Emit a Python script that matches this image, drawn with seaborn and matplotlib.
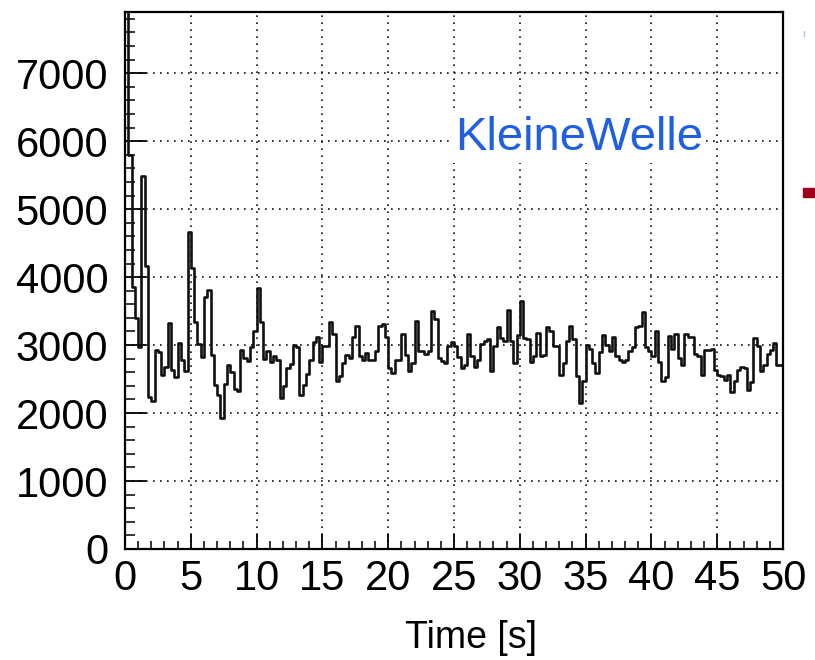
import numpy as np
import pandas as pd
import matplotlib
matplotlib.use("Agg")
import matplotlib.pyplot as plt
from matplotlib.ticker import MultipleLocator
from matplotlib.patches import Rectangle
from matplotlib.lines import Line2D
import seaborn as sns

# ---- data: counts per 0.25 s bin, 0 - 50 s ----
counts = [
    8000, 5800, 3850, 3400, 2965, 5480, 4170, 2240, 2170, 2930,
    2900, 2560, 2680, 3330, 2630, 2535, 3035, 2780, 2620, 4665,
    4140, 3340, 3015, 2830, 3705, 3815, 2855, 2410, 2260, 1930,
    2430, 2700, 2600, 2350, 2320, 2930, 2810, 2760, 2975, 3200,
    3840, 3333, 2800, 2917, 2745, 2843, 2785, 2215, 2392, 2662,
    2725, 3005, 2970, 2260, 2420, 2570, 2785, 3040, 3118, 2745,
    2980, 2980, 3333, 3170, 2465, 2540, 2735, 2858, 2810, 3118,
    3284, 2833, 2785, 2890, 2785, 2785, 2917, 3284, 3314, 3118,
    2670, 2590, 2775, 2775, 3167, 2858, 2612, 2735, 3358, 2917,
    2917, 2868, 2917, 3495, 3382, 2809, 2760, 2735, 2980, 3040,
    2990, 2825, 2662, 2710, 3167, 2833, 2676, 2784, 3020, 3054,
    3088, 2612, 2980, 3265, 3103, 3054, 3520, 3054, 2735, 3152,
    3642, 3103, 3088, 2745, 2843, 3176, 2843, 2858, 3265, 3200,
    2980, 2980, 2564, 2735, 3054, 3284, 3088, 2549, 2147, 2466,
    3005, 2941, 2735, 2590, 2892, 3152, 3005, 2907, 3118, 2843,
    2785, 2745, 2785, 2907, 2970, 3265, 3275, 3480, 2975, 2907,
    2843, 3200, 2745, 2475, 2525, 3137, 2941, 3167, 2809, 2711,
    3162, 3118, 3118, 2872, 2843, 2564, 2931, 2931, 2941, 2637,
    2564, 2540, 2480, 2564, 2304, 2466, 2637, 2676, 2660, 2333,
    2460, 3103, 2980, 2613, 2711, 2868, 2931, 3030, 2711, 2711,
]
time_range = (0.0, 50.0)
n_bins = len(counts)
bin_centers = np.linspace(time_range[0], time_range[1], n_bins, endpoint=False) + \
    (time_range[1] - time_range[0]) / n_bins / 2
y_ticks = [0, 1000, 2000, 3000, 4000, 5000, 6000, 7000]
x_ticks = [0, 5, 10, 15, 20, 25, 30, 35, 40, 45, 50]
x_title = "Time [s]"
label_text = "KleineWelle"

df = pd.DataFrame({"time": bin_centers, "count": counts})

sns.set_style("white")
plt.rcParams["font.family"] = ["Liberation Sans", "DejaVu Sans"]

fig = plt.figure(figsize=(8.15, 6.6), dpi=100)
ax = fig.add_axes([125 / 815, 1 - 549 / 660, (783 - 125) / 815, (549 - 12) / 660])

sns.histplot(data=df, x="time", weights="count", bins=n_bins, binrange=time_range,
             element="step", fill=False, color="#111111", linewidth=1.9, ax=ax)

ax.set_xlim(*time_range)
ax.set_ylim(0, 7900)
ax.set_xticks(x_ticks)
ax.set_xticklabels([str(v) for v in x_ticks])
ax.set_yticks(y_ticks)
ax.set_yticklabels([str(v) for v in y_ticks])
ax.xaxis.set_minor_locator(MultipleLocator(1))
ax.yaxis.set_minor_locator(MultipleLocator(200))
ax.set_xlabel("")
ax.set_ylabel("")

ax.tick_params(axis="y", which="major", direction="in", length=15, width=1.3,
               labelsize=30, pad=12, left=True, right=False, colors="black",
               labelcolor="black")
ax.tick_params(axis="y", which="minor", direction="in", length=7.5, width=1.1,
               left=True, right=False, colors="black")
ax.tick_params(axis="x", which="major", direction="in", length=11, width=1.3,
               labelsize=30, pad=7, bottom=True, top=False, colors="black",
               labelcolor="black")
ax.tick_params(axis="x", which="minor", direction="in", length=5.5, width=1.1,
               bottom=True, top=False, colors="black")

ax.grid(True, which="major", linestyle=(0, (1, 3.2)), color="#111111", linewidth=1.2)
ax.set_axisbelow(True)
for s in ax.spines.values():
    s.set_visible(True)
    s.set_color("black")
    s.set_linewidth(1.6)

fig.text(405 / 815, 1 - 648 / 660, x_title, fontsize=27, color="black",
         ha="left", va="baseline")
fig.text(455 / 815, 1 - 150 / 660, label_text, fontsize=34, color="#1f5fe6",
         ha="left", va="baseline",
         bbox=dict(facecolor="white", edgecolor="none", pad=2))

# cropped legend remnants at the right edge
fig.patches.append(Rectangle((803 / 815, 1 - 197 / 660), 12 / 815, 9 / 660,
                             transform=fig.transFigure, color="#a0001e"))
fig.lines.append(Line2D([803.5 / 815, 803.5 / 815], [1 - 36 / 660, 1 - 31 / 660],
                        transform=fig.transFigure, color="#9cc3ee", linewidth=1))

fig.savefig("out.png", dpi=100)
